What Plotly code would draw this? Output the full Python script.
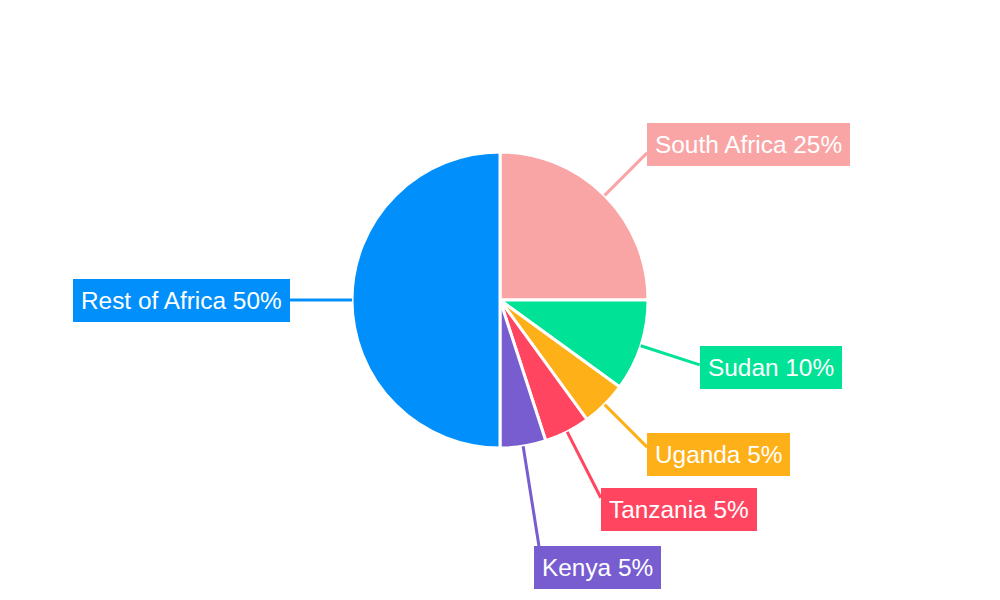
import math
import plotly.graph_objects as go

# ---- data ----
countries = ["South Africa", "Sudan", "Uganda", "Tanzania", "Kenya", "Rest of Africa"]
shares = [25, 10, 5, 5, 5, 50]
colors = ["#F9A5A6", "#00E396", "#FEB019", "#FF4560", "#775DD0", "#008FFB"]

# ---- label layout (pixel tuning) ----
label_radius = [208, 210, 208, 222, 249, 210]
label_yshift = [8, -3, -7, -12, -22, 0]
label_xshift = [0, 0, 0, 0, -5, 0]

W, H = 1000, 600
PAGE_OFF = 8  # default body margin of the html page
dom_x = [(352 - PAGE_OFF) / W, (648 - PAGE_OFF) / W]
dom_y = [1 - (448 - PAGE_OFF) / H, 1 - (152 - PAGE_OFF) / H]
cx = (dom_x[0] + dom_x[1]) / 2 * W
cy = (1 - (dom_y[0] + dom_y[1]) / 2) * H
R = min((dom_x[1] - dom_x[0]) * W, (dom_y[1] - dom_y[0]) * H) / 2

fig = go.Figure(go.Pie(
    labels=countries, values=shares, sort=False, direction="clockwise",
    rotation=0, textinfo="none", hoverinfo="none",
    marker=dict(colors=colors, line=dict(color="white", width=3)),
    domain=dict(x=dom_x, y=dom_y), showlegend=False,
))

total = sum(shares)
cum = 0
for i, (name, v) in enumerate(zip(countries, shares)):
    mid = (cum + v / 2) / total * 2 * math.pi
    cum += v
    dx, dy = math.sin(mid), -math.cos(mid)
    x0, y0 = cx + R * dx, cy + R * dy
    x1, y1 = cx + label_radius[i] * dx, cy + label_radius[i] * dy
    fig.add_shape(type="line", xref="paper", yref="paper",
                  x0=x0 / W, y0=1 - y0 / H, x1=x1 / W, y1=1 - y1 / H,
                  line=dict(color=colors[i], width=3))
    pct = round(v / total * 100)
    fig.add_annotation(
        x=x1 / W, y=1 - y1 / H, xref="paper", yref="paper",
        text=f"{name} {pct}%", showarrow=False,
        xanchor="left" if dx > 0.01 else "right", yanchor="middle",
        xshift=label_xshift[i], yshift=label_yshift[i],
        bgcolor=colors[i], borderpad=8, borderwidth=0,
        font=dict(family="Liberation Sans, Arial, sans-serif", size=24.4, color="white"),
    )

fig.update_layout(
    width=W, height=H, margin=dict(l=0, r=0, t=0, b=0),
    paper_bgcolor="white", plot_bgcolor="white",
)
fig.write_html("out.html")
